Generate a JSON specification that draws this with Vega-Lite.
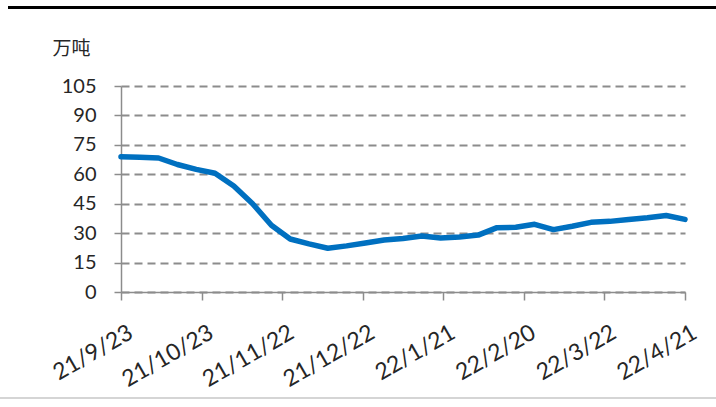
{
  "$schema": "https://vega.github.io/schema/vega-lite/v6.json",
  "width": 564,
  "height": 206,
  "autosize": "none",
  "padding": {"left": 121, "top": 86, "right": 31, "bottom": 115},
  "background": "white",
  "config": {"view": {"stroke": null}, "font": "Lato"},
  "data": {"values": [
    {"date": "2021-09-23", "value": 69},
    {"date": "2021-09-30", "value": 68.7},
    {"date": "2021-10-07", "value": 68.3},
    {"date": "2021-10-14", "value": 65},
    {"date": "2021-10-21", "value": 62.5},
    {"date": "2021-10-28", "value": 60.5},
    {"date": "2021-11-04", "value": 54},
    {"date": "2021-11-11", "value": 45},
    {"date": "2021-11-18", "value": 34},
    {"date": "2021-11-25", "value": 27},
    {"date": "2021-12-02", "value": 24.5},
    {"date": "2021-12-09", "value": 22.3},
    {"date": "2021-12-16", "value": 23.5},
    {"date": "2021-12-23", "value": 25},
    {"date": "2021-12-30", "value": 26.5},
    {"date": "2022-01-06", "value": 27.3},
    {"date": "2022-01-13", "value": 28.5},
    {"date": "2022-01-20", "value": 27.5},
    {"date": "2022-01-27", "value": 28},
    {"date": "2022-02-03", "value": 29},
    {"date": "2022-02-10", "value": 32.8},
    {"date": "2022-02-17", "value": 33},
    {"date": "2022-02-24", "value": 34.5},
    {"date": "2022-03-03", "value": 31.8},
    {"date": "2022-03-10", "value": 33.5},
    {"date": "2022-03-17", "value": 35.5},
    {"date": "2022-03-24", "value": 36},
    {"date": "2022-03-31", "value": 37},
    {"date": "2022-04-07", "value": 37.8},
    {"date": "2022-04-14", "value": 39},
    {"date": "2022-04-21", "value": 37}
  ]},
  "layer": [
    {
      "mark": {"type": "line", "color": "#0070C0", "strokeWidth": 5.5, "strokeJoin": "round", "strokeCap": "round"},
      "encoding": {
        "x": {
          "field": "date", "type": "temporal",
          "scale": {"type": "utc", "domain": [{"year": 2021, "month": 9, "date": 23, "utc": true}, {"year": 2022, "month": 4, "date": 21, "utc": true}]},
          "axis": {
            "title": null,
            "values": [
              {"year": 2021, "month": 9, "date": 23, "utc": true},
              {"year": 2021, "month": 10, "date": 23, "utc": true},
              {"year": 2021, "month": 11, "date": 22, "utc": true},
              {"year": 2021, "month": 12, "date": 22, "utc": true},
              {"year": 2022, "month": 1, "date": 21, "utc": true},
              {"year": 2022, "month": 2, "date": 20, "utc": true},
              {"year": 2022, "month": 3, "date": 22, "utc": true},
              {"year": 2022, "month": 4, "date": 21, "utc": true}
            ],
            "labelExpr": "utcFormat(datum.value, '%y/%-m/%-d')",
            "labelAngle": -30,
            "labelAlign": "right",
            "labelBaseline": "top",
            "labelFontSize": 23,
            "labelColor": "#262626",
            "labelPadding": 21,
            "labelOffset": 4,
            "labelOverlap": false,
            "labelBound": false,
            "labelFlush": false,
            "grid": false,
            "domainColor": "#8c8c8c",
            "domainWidth": 1.5,
            "tickColor": "#8c8c8c",
            "tickWidth": 1.5,
            "tickSize": 8
          }
        },
        "y": {
          "field": "value", "type": "quantitative",
          "scale": {"domain": [0, 105], "nice": false, "zero": true},
          "axis": {
            "values": [0, 15, 30, 45, 60, 75, 90, 105],
            "labelOverlap": false,
            "title": "万吨",
            "titleAngle": 0,
            "titleAlign": "left",
            "titleBaseline": "middle",
            "titleX": -69,
            "titleY": -38,
            "titleFont": "Noto Sans CJK SC",
            "titleFontSize": 19,
            "titleFontWeight": "normal",
            "titleColor": "#262626",
            "labelFontSize": 20,
            "labelColor": "#262626",
            "labelPadding": 18,
            "domainColor": "#8c8c8c",
            "domainWidth": 1.5,
            "tickColor": "#8c8c8c",
            "tickWidth": 1.5,
            "tickSize": 7,
            "grid": true,
            "gridColor": "#8c8c8c",
            "gridDash": [8, 5],
            "gridWidth": 1.8
          }
        }
      }
    },
    {
      "mark": {"type": "rule", "color": "#000000", "strokeWidth": 2, "clip": false},
      "encoding": {
        "x": {"datum": {"year": 2021, "month": 8, "date": 12, "utc": true}, "type": "temporal"},
        "x2": {"datum": {"year": 2022, "month": 5, "date": 4, "utc": true}},
        "y": {"datum": 145, "type": "quantitative", "axis": {"values": [0, 15, 30, 45, 60, 75, 90, 105], "title": "万吨"}}
      }
    },
    {
      "mark": {"type": "rule", "color": "#d4d4d4", "strokeWidth": 1.5, "clip": false},
      "encoding": {
        "x": {"datum": {"year": 2021, "month": 8, "date": 8, "utc": true}, "type": "temporal"},
        "x2": {"datum": {"year": 2022, "month": 5, "date": 4, "utc": true}},
        "y": {"datum": -54, "type": "quantitative", "axis": {"values": [0, 15, 30, 45, 60, 75, 90, 105], "title": "万吨"}}
      }
    }
  ]
}
